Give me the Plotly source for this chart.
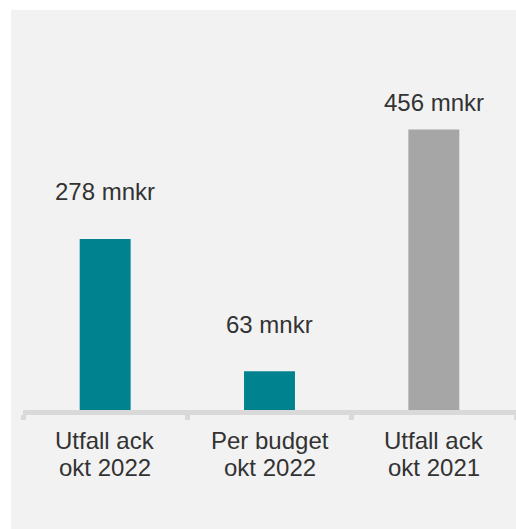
import plotly.graph_objects as go

categories = ["Utfall ack\nokt 2022", "Per budget\nokt 2022", "Utfall ack\nokt 2021"]
values = [278, 63, 456]
value_labels = ["278 mnkr", "63 mnkr", "456 mnkr"]
bar_colors = ["#00838F", "#00838F", "#A6A6A6"]
label_shift = [47, 47, 27]

TEXT = "#333333"
FONT = "Liberation Sans, Arial, sans-serif"

fig = go.Figure()
fig.add_trace(go.Bar(
    x=categories, y=values, marker=dict(color=bar_colors, line=dict(width=0)),
    width=0.31, hoverinfo="skip",
))

annotations = []
for cat, v, lab, sh in zip(categories, values, value_labels, label_shift):
    annotations.append(dict(x=cat, y=v, xref="x", yref="y", text=lab, showarrow=False,
                            yanchor="middle", yshift=sh,
                            font=dict(family=FONT, size=24, color=TEXT)))
    lines = cat.split("\n")
    for i, line in enumerate(lines):
        annotations.append(dict(x=cat, y=0, xref="x", yref="y", text=line, showarrow=False,
                                yanchor="middle", yshift=-30.5 - 27 * i,
                                font=dict(family=FONT, size=24, color=TEXT)))

fig.update_layout(
    width=516, height=529,
    margin=dict(l=23, r=0, t=10, b=119),
    paper_bgcolor="white", plot_bgcolor="rgba(0,0,0,0)",
    showlegend=False,
    annotations=annotations,
    shapes=[dict(type="rect", xref="paper", yref="paper", x0=-12 / 493, x1=1.05,
                 y0=-1.0, y1=1.0, fillcolor="#F2F2F2", line=dict(width=0), layer="below")],
    xaxis=dict(type="category", range=[-0.5, 2.5], showticklabels=False,
               showline=True, linecolor="#D9D9D9", linewidth=5,
               ticks="outside", tickson="boundaries", tickcolor="#D9D9D9",
               tickwidth=5, ticklen=5, showgrid=False, zeroline=False, fixedrange=True),
    yaxis=dict(range=[0, 650], visible=False, showgrid=False, zeroline=False, fixedrange=True),
)

fig.write_html(
    "out.html",
    config={"displayModeBar": False},
    post_script="document.body.style.margin='0';document.body.style.padding='0';document.body.style.overflow='hidden';",
)
